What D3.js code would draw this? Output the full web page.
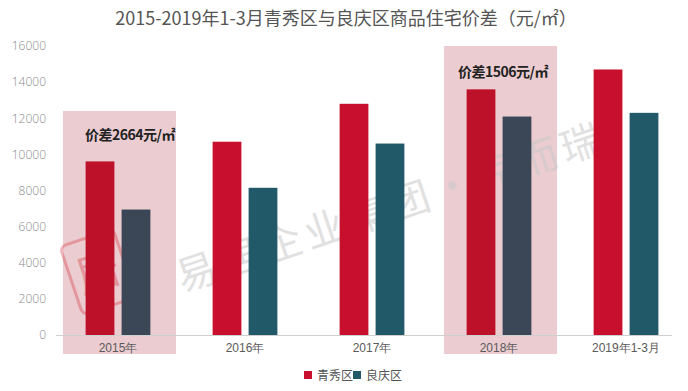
<!DOCTYPE html>
<html><head><meta charset="utf-8">
<script src="https://cdn.jsdelivr.net/npm/d3@7"></script>
<style>
html,body{margin:0;padding:0;background:#fff;}
svg{display:block;font-family:"Noto Sans CJK SC","Noto Sans",sans-serif;}
</style></head>
<body><svg id="c" width="688" height="391"></svg>
<script>
const categories = ["2015年","2016年","2017年","2018年","2019年1-3月"];
const seriesNames = ["青秀区","良庆区"];
const qingxiu = [9610, 10700, 12800, 13600, 14700];
const liangqing = [6946, 8150, 10600, 12094, 12300];
const yTicks = [0,2000,4000,6000,8000,10000,12000,14000,16000];
const highlights = ["2015年","2018年"];
const highlightTops = [12400, 16000];
const highlightNotes = ["价差2664元/㎡","价差1506元/㎡"];
const title = "2015-2019年1-3月青秀区与良庆区商品住宅价差（元/㎡）";
const watermark = "易居企业集团·克而瑞";

const colors = {"青秀区":"#c8102e","良庆区":"#225968"};
const shadedColors = {"青秀区":"#bd1029","良庆区":"#3b4756"};

const svg = d3.select("#c");
const x = d3.scaleBand().domain(categories).range([54.5,689.5]).paddingInner(0.49).paddingOuter(0.245);
const xs = d3.scaleBand().domain(seriesNames).range([0,x.bandwidth()]).paddingInner(0.2);
const y = d3.scaleLinear().domain([0,16000]).range([335,46]);

const data = categories.map((c,i)=>({cat:c, values:[{s:"青秀区",v:qingxiu[i]},{s:"良庆区",v:liangqing[i]}]}));

// title
svg.append("text").attr("x",346).attr("y",25).attr("text-anchor","middle")
  .attr("font-size",18).attr("fill","#555").text(title);

// highlight shades
highlights.forEach((c,i)=>{
  const cx = x(c)+x.bandwidth()/2;
  svg.append("rect").attr("x",cx-55).attr("y",y(highlightTops[i]))
    .attr("width",113).attr("height",y(0)+19-y(highlightTops[i]))
    .attr("fill","#ebcdd1");
});

// watermark
const wm = svg.append("g").attr("transform","translate(182,292) rotate(-18.5)").attr("opacity",0.55);
wm.append("text").attr("x",0).attr("y",0).attr("font-size",40).attr("letter-spacing",5)
  .attr("fill","#c9c9c9").text(watermark);
const st = svg.append("g").attr("transform","translate(98,272) rotate(-18.5)").attr("opacity",0.35);
st.append("rect").attr("x",-28).attr("y",-36).attr("width",56).attr("height",72).attr("rx",6)
  .attr("fill","none").attr("stroke","#d9323f").attr("stroke-width",3);
st.append("text").attr("x",0).attr("y",16).attr("text-anchor","middle").attr("font-size",44)
  .attr("fill","#d9323f").text("居");

// baseline
svg.append("line").attr("x1",56).attr("x2",672).attr("y1",y(0)+0.5).attr("y2",y(0)+0.5)
  .attr("stroke","#cfcfcf").attr("stroke-width",1);

// y axis
const yAxis = d3.axisLeft(y).tickValues(yTicks).tickSize(0).tickPadding(0).tickFormat(d3.format("d"));
const ya = svg.append("g").attr("transform","translate(46,0)").call(yAxis);
ya.select(".domain").remove();
ya.selectAll("text").attr("font-size",12).attr("fill","#8a8a8a").attr("font-family","'Open Sans','Noto Sans',sans-serif").attr("font-weight",300);

// bars
const g = svg.append("g").selectAll("g").data(data).join("g")
  .attr("transform",d=>`translate(${x(d.cat)},0)`);
g.selectAll("rect").data(d=>d.values.map(v=>({...v,cat:d.cat}))).join("rect")
  .attr("x",d=>xs(d.s)).attr("width",xs.bandwidth())
  .attr("y",d=>y(d.v)).attr("height",d=>y(0)-y(d.v))
  .attr("fill",d=>highlights.includes(d.cat)?shadedColors[d.s]:colors[d.s]);

// x axis
const xAxis = d3.axisBottom(x).tickSize(0).tickPadding(0);
const xa = svg.append("g").attr("transform",`translate(0,${y(0)+17})`).call(xAxis);
xa.select(".domain").remove();
xa.selectAll("text").attr("font-size",12).attr("fill","#5a5a5a").attr("dy",0);

// notes
highlights.forEach((c,i)=>{
  const cx = x(c)+x.bandwidth()/2;
  svg.append("text").attr("x",cx-(i===0?33:41)).attr("y",y(highlightTops[i])+(i===0?29:31))
    .attr("font-size",14).attr("font-weight",700).attr("fill","#222")
    .attr("letter-spacing",-0.5).text(highlightNotes[i]);
});

// legend
const lg = svg.append("g").attr("transform","translate(304,375)");
let lx = 0;
seriesNames.forEach((s,i)=>{
  lg.append("rect").attr("x",lx).attr("y",-4).attr("width",8).attr("height",8).attr("fill",colors[s]);
  lg.append("text").attr("x",lx+13).attr("y",4.5).attr("font-size",12).attr("fill","#555").text(s);
  lx += 49;
});
</script></body></html>
